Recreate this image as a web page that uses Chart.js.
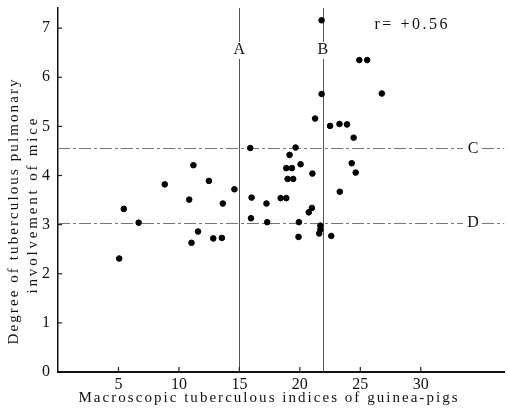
<!DOCTYPE html>
<html>
<head>
<meta charset="utf-8">
<script src="https://cdn.jsdelivr.net/npm/chart.js@4"></script>
<style>
  html, body { margin: 0; padding: 0; background: #fff; }
  #wrap { width: 508px; height: 408px; position: relative; }
</style>
</head>
<body>
<div id="wrap"><canvas id="c"></canvas></div>
<script>
// ---- Data ----
const guineaPigIndex = [5.06, 5.44, 6.67, 8.83, 10.85, 11.04, 11.2, 11.58, 12.48, 12.84, 13.55, 13.63, 14.59,
  15.9, 15.96, 16.01, 17.24, 17.3, 18.41, 18.88, 18.88, 18.99, 19.15, 19.34, 19.45, 19.65, 19.89, 19.92, 20.06,
  20.74, 21.0, 21.04, 21.26, 21.6, 21.7, 21.7, 21.8, 21.8, 22.5, 22.6, 23.28, 23.3, 23.9, 24.29, 24.45, 24.62,
  24.92, 25.57, 26.78];
const miceDegree = [2.31, 3.32, 3.04, 3.82, 3.51, 2.63, 4.21, 2.86, 3.89, 2.72, 2.73, 3.43, 3.72,
  4.56, 3.13, 3.55, 3.43, 3.05, 3.54, 3.54, 4.15, 3.93, 4.42, 4.15, 3.93, 4.57, 2.75, 3.05, 4.23,
  3.25, 3.34, 4.04, 5.16, 2.82, 2.9, 2.98, 5.66, 7.16, 5.01, 2.77, 5.05, 3.67, 5.04, 4.25, 4.77, 4.06,
  6.35, 6.35, 5.67];
const xTickValues = [5, 10, 15, 20, 25, 30];
const yTickValues = [0, 1, 2, 3, 4, 5, 6, 7];
const verticalLines = [{ label: 'A', value: 15 }, { label: 'B', value: 21.9 }];
const horizontalLines = [{ label: 'C', value: 4.55 }, { label: 'D', value: 3.04 }];
const correlationText = 'r= +0.56';
const xTitle = 'Macroscopic tuberculous indices of guinea-pigs';
const yTitleLines = ['Degree of tuberculous pulmonary', 'involvement of mice'];

const SERIF = '"Liberation Serif", "DejaVu Serif", serif';

function fitText(ctx, text, x, y, width) {
  ctx.letterSpacing = '0px';
  const w = ctx.measureText(text).width;
  const n = text.length;
  const ls = n > 1 ? (width - w) / (n - 1) : 0;
  ctx.letterSpacing = ls + 'px';
  ctx.textAlign = 'left';
  ctx.fillText(text, x - width / 2, y);
  ctx.letterSpacing = '0px';
}

const decor = {
  id: 'decor',
  beforeDatasetsDraw(chart) {
    const { ctx, chartArea: a, scales: { x, y } } = chart;
    ctx.save();
    // vertical lines A, B with gap for label
    ctx.strokeStyle = '#555';
    ctx.lineWidth = 1;
    verticalLines.forEach(l => {
      const px = Math.round(x.getPixelForValue(l.value)) + 0.5;
      ctx.beginPath();
      ctx.moveTo(px, a.top); ctx.lineTo(px, 42);
      ctx.moveTo(px, 59); ctx.lineTo(px, a.bottom);
      ctx.stroke();
    });
    // horizontal lines C, D
    ctx.strokeStyle = '#777';
    ctx.setLineDash([12, 3, 3, 3]);
    horizontalLines.forEach(l => {
      const py = Math.round(y.getPixelForValue(l.value)) + 0.5;
      ctx.beginPath();
      ctx.moveTo(a.left, py); ctx.lineTo(463, py);
      ctx.moveTo(482, py); ctx.lineTo(a.right, py);
      ctx.stroke();
    });
    ctx.setLineDash([]);
    // tick marks (inside)
    ctx.strokeStyle = '#222';
    ctx.lineWidth = 1.2;
    xTickValues.forEach(v => {
      const px = x.getPixelForValue(v);
      ctx.beginPath(); ctx.moveTo(px, a.bottom); ctx.lineTo(px, a.bottom - 5); ctx.stroke();
    });
    yTickValues.forEach(v => {
      if (v === 0) return;
      const py = y.getPixelForValue(v);
      ctx.beginPath(); ctx.moveTo(a.left, py); ctx.lineTo(a.left + 4, py); ctx.stroke();
    });
    // labels
    ctx.fillStyle = '#111';
    ctx.font = '16px ' + SERIF;
    ctx.textBaseline = 'middle';
    ctx.textAlign = 'center';
    verticalLines.forEach(l => {
      ctx.fillText(l.label, x.getPixelForValue(l.value), 50);
    });
    horizontalLines.forEach(l => {
      ctx.fillText(l.label, 473, y.getPixelForValue(l.value));
    });
    ctx.font = '16px ' + SERIF;
    fitText(ctx, correlationText, 411, 25, 73);
    // x title
    ctx.font = '15px ' + SERIF;
    ctx.textBaseline = 'alphabetic';
    fitText(ctx, xTitle, 268, 402, 379);
    // y title
    ctx.save();
    ctx.translate(14, 212);
    ctx.rotate(-Math.PI / 2);
    ctx.textBaseline = 'middle';
    fitText(ctx, yTitleLines[0], 0, 0, 265);
    ctx.restore();
    ctx.save();
    ctx.translate(33, 206);
    ctx.rotate(-Math.PI / 2);
    ctx.textBaseline = 'middle';
    fitText(ctx, yTitleLines[1], 0, 0, 175);
    ctx.restore();
    ctx.restore();
  }
};

new Chart(document.getElementById('c'), {
  type: 'scatter',
  data: {
    datasets: [{
      data: guineaPigIndex.map((v, i) => ({ x: v, y: miceDegree[i] })),
      backgroundColor: '#000',
      borderColor: '#000',
      pointRadius: 2.8,
      pointHoverRadius: 2.8
    }]
  },
  options: {
    responsive: true,
    maintainAspectRatio: false,
    animation: false,
    layout: { padding: { top: 8, left: 0, right: 0, bottom: 0 } },
    plugins: { legend: { display: false }, tooltip: { enabled: false } },
    scales: {
      x: {
        type: 'linear',
        min: 0, max: 36.9,
        afterFit(s) { s.height = 36; s.paddingLeft = 0; s.paddingRight = 0; },
        afterBuildTicks(s) { s.ticks = xTickValues.map(v => ({ value: v })); },
        grid: { display: false, drawTicks: false },
        border: { display: true, color: '#111', width: 2 },
        ticks: { color: '#111', font: { family: SERIF, size: 16 }, padding: 3, maxRotation: 0, autoSkip: false }
      },
      y: {
        type: 'linear',
        min: 0, max: 7.41,
        afterFit(s) { s.width = 58; s.paddingTop = 0; s.paddingBottom = 0; },
        afterBuildTicks(s) { s.ticks = yTickValues.map(v => ({ value: v })); },
        grid: { display: false, drawTicks: false },
        border: { display: true, color: '#111', width: 1.5 },
        ticks: { color: '#111', font: { family: SERIF, size: 16 }, padding: 8, autoSkip: false }
      }
    }
  },
  plugins: [decor]
});
</script>
</body>
</html>
